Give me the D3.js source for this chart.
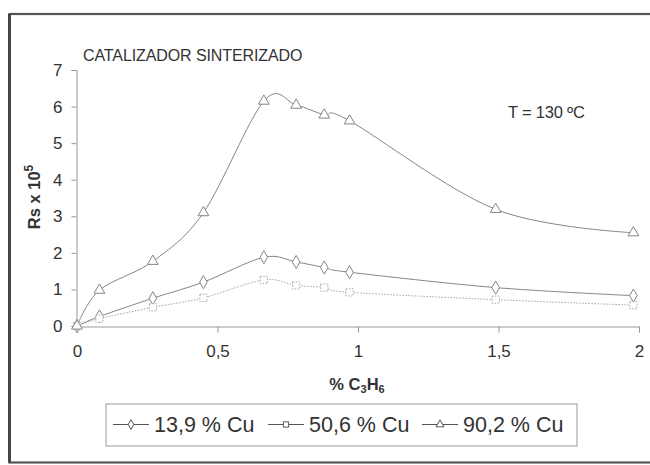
<!DOCTYPE html>
<html>
<head>
<meta charset="utf-8">
<script src="https://cdn.jsdelivr.net/npm/d3@7"></script>
<style>
  html, body { margin: 0; padding: 0; background: #fff; }
  svg { display: block; font-family: "Liberation Sans", Arial, sans-serif; }
</style>
</head>
<body>
<svg id="chart" width="650" height="465"></svg>
<script>
// % C3H6 in the feed
const propene = [0, 0.08, 0.27, 0.45, 0.665, 0.78, 0.88, 0.97, 1.49, 1.98];
// Rs x 10^5 for each copper loading
const cu139 = [0, 0.26, 0.76, 1.2, 1.88, 1.75, 1.6, 1.47, 1.05, 0.83];
const cu506 = [0, 0.2, 0.51, 0.77, 1.26, 1.11, 1.05, 0.92, 0.72, 0.57];
const cu902 = [0, 0.98, 1.77, 3.1, 6.15, 6.04, 5.77, 5.61, 3.19, 2.55];

const seriesNames = ["13,9 % Cu", "50,6 % Cu", "90,2 % Cu"];
const xTicks = [0, 0.5, 1, 1.5, 2];
const yTicks = [0, 1, 2, 3, 4, 5, 6, 7];

const svg = d3.select("#chart");
const x = d3.scaleLinear().domain([0, 2]).range([77, 639]);
const y = d3.scaleLinear().domain([0, 7]).range([326, 70]);
const fmt = d => String(d).replace(".", ",");

// outer frame
svg.append("rect").attr("x", 9.5).attr("y", 14).attr("width", 660).attr("height", 448.5)
  .attr("fill", "none").attr("stroke", "#555").attr("stroke-width", 2.2);
svg.append("line").attr("x1", 9.5).attr("x2", 9.5).attr("y1", 14).attr("y2", 462.5)
  .attr("stroke", "#444").attr("stroke-width", 3);

// axes
const xAxis = svg.append("g").attr("transform", "translate(0,326.5)")
  .call(d3.axisBottom(x).tickValues(xTicks).tickFormat(fmt).tickSize(6).tickPadding(12));
const yAxis = svg.append("g").attr("transform", "translate(76.5,0)")
  .call(d3.axisLeft(y).tickValues(yTicks).tickFormat(d3.format("d")).tickSize(5).tickPadding(9));
[xAxis, yAxis].forEach(g => {
  g.select(".domain").attr("stroke", "#999");
  g.selectAll(".tick line").attr("stroke", "#999");
  g.selectAll(".tick text").attr("fill", "#333").attr("font-size", 17)
    .attr("font-family", "Liberation Sans, Arial, sans-serif");
});

// titles
svg.append("text").attr("x", 83).attr("y", 61).attr("font-size", 16).attr("fill", "#333")
  .attr("letter-spacing", -0.1).text("CATALIZADOR SINTERIZADO");
svg.append("text").attr("x", 508).attr("y", 118).attr("font-size", 16.5).attr("fill", "#333")
  .attr("letter-spacing", -0.2).text("T = 130 ºC");

const yt = svg.append("text").attr("transform", "translate(40,197) rotate(-90)")
  .attr("text-anchor", "middle").attr("font-size", 16.5).attr("font-weight", "bold").attr("fill", "#333");
yt.append("tspan").text("Rs x 10");
yt.append("tspan").attr("font-size", 12).attr("dy", -7).text("5");

const xt = svg.append("text").attr("x", 357).attr("y", 390)
  .attr("text-anchor", "middle").attr("font-size", 16.5).attr("font-weight", "bold").attr("fill", "#333");
xt.append("tspan").text("% C");
xt.append("tspan").attr("font-size", 11).attr("dy", 3).text("3");
xt.append("tspan").attr("dy", -3).text("H");
xt.append("tspan").attr("font-size", 11).attr("dy", 3).text("6");

// series
const series = [
  { name: seriesNames[0], values: cu139, symbol: d3.symbolDiamond, size: 50, stroke: "#858585", dash: null },
  { name: seriesNames[1], values: cu506, symbol: d3.symbolSquare, size: 52, stroke: "#a5a5a5", dash: "1.5,1.5" },
  { name: seriesNames[2], values: cu902, symbol: d3.symbolTriangle, size: 50, stroke: "#858585", dash: null }
];

const line = d3.line().x((d, i) => x(propene[i])).y(d => y(d)).curve(d3.curveCatmullRom.alpha(0));

series.forEach(s => {
  svg.append("path").datum(s.values).attr("d", line)
    .attr("fill", "none").attr("stroke", s.stroke).attr("stroke-width", 1)
    .attr("stroke-dasharray", s.dash);
  svg.append("g").selectAll("path").data(s.values).join("path")
    .attr("transform", (d, i) => `translate(${x(propene[i])},${y(d)})`)
    .attr("d", d3.symbol().type(s.symbol).size(s.size))
    .attr("fill", "#fff").attr("stroke", s.stroke).attr("stroke-width", 1)
    .attr("stroke-dasharray", s.dash);
});

// legend
svg.append("rect").attr("x", 106).attr("y", 404).attr("width", 471).attr("height", 42)
  .attr("fill", "#fff").attr("stroke", "#999").attr("stroke-width", 1);
const legendX = [113, 268, 422];
series.forEach((s, i) => {
  const g = svg.append("g").attr("transform", `translate(${legendX[i]},424.5)`);
  g.append("line").attr("x1", 0).attr("x2", 36).attr("y1", 0).attr("y2", 0)
    .attr("stroke", "#555").attr("stroke-width", 1.2);
  g.append("path").attr("transform", "translate(18,0)")
    .attr("d", d3.symbol().type(s.symbol).size(28))
    .attr("fill", "#fff").attr("stroke", "#555").attr("stroke-width", 1);
  g.append("text").attr("x", 41).attr("y", 7.5).attr("font-size", 21.5).attr("fill", "#333")
    .text(s.name);
});
</script>
</body>
</html>
